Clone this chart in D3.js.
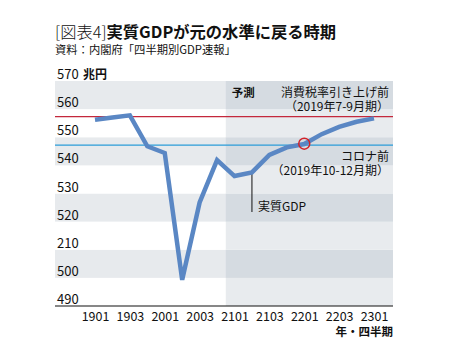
<!DOCTYPE html>
<html><head><meta charset="utf-8">
<script src="https://cdn.jsdelivr.net/npm/d3@7"></script>
<style>body{margin:0;background:#fff}svg{display:block}text{font-family:"Noto Sans CJK JP","Noto Sans",sans-serif}</style>
</head><body><svg id="c" width="449" height="358"></svg>
<script>
const quarters = ["1901","1902","1903","1904","2001","2002","2003","2004","2101","2102","2103","2104","2201","2202","2203","2204","2301"];
const gdp = [556.2,557.0,557.8,546.8,544.4,499.3,526.8,541.9,536.2,537.5,543.7,546.4,547.6,551.1,553.7,555.5,556.7];
const tickLabels = ["1901","1903","2001","2003","2101","2103","2201","2203","2301"];
const yTicks = [490,500,510,520,530,540,550,560,570];
const yTickText = ["490","500","210","520","530","540","550","560","570"];
const refPreTax = 557.3, refPreCovid = 547.2;
const forecastStart = "2101";

const svg = d3.select("#c");
const L = 55, R = 393, T = 81, B = 306;
const x = d3.scalePoint().domain(quarters).range([95, 374]);
const y = d3.scaleLinear().domain([490,570]).range([B, T]);
const step = x.step();

// bands
const bands = d3.range(0, yTicks.length-1);
svg.selectAll("rect.band").data(bands).join("rect")
  .attr("x", L).attr("width", R-L)
  .attr("y", i => y(yTicks[i+1])).attr("height", i => y(yTicks[i]) - y(yTicks[i+1]))
  .attr("fill", i => (yTicks.length-2-i) % 2 === 0 ? "#e7eaed" : "#ffffff");
// forecast overlay
const fx = x(forecastStart) - step/2;
svg.selectAll("rect.fband").data(bands).join("rect")
  .attr("x", fx).attr("width", R-fx)
  .attr("y", i => y(yTicks[i+1])).attr("height", i => y(yTicks[i]) - y(yTicks[i+1]))
  .attr("fill", i => (yTicks.length-2-i) % 2 === 0 ? "#d5dbe1" : "#e8ebee");

// y labels
svg.selectAll("text.yl").data(yTicks).join("text")
  .attr("x", L + 2).attr("y", d => y(d) - 2)
  .attr("font-size", 13).attr("fill", "#111")
  .text((d,i) => yTickText[i]);
svg.append("text").attr("x", L + 28).attr("y", y(570) - 2)
  .attr("font-size", 12).attr("font-weight", "bold").attr("fill", "#111").text("兆円");

// reference lines
svg.append("line").attr("x1", L).attr("x2", R).attr("y1", y(refPreTax)).attr("y2", y(refPreTax))
  .attr("stroke", "#c4283c").attr("stroke-width", 1.2);
svg.append("line").attr("x1", L).attr("x2", R).attr("y1", y(refPreCovid)).attr("y2", y(refPreCovid))
  .attr("stroke", "#2b9cd8").attr("stroke-width", 1.2);

// leader line
svg.append("line").attr("x1", x("2102")).attr("x2", x("2102"))
  .attr("y1", y(gdp[9])).attr("y2", 212).attr("stroke", "#111").attr("stroke-width", 1);

// GDP line
svg.append("path").datum(gdp)
  .attr("d", d3.line().x((d,i) => x(quarters[i])).y(d => y(d)))
  .attr("fill", "none").attr("stroke", "#5a87c4").attr("stroke-width", 4.5).attr("stroke-linejoin", "miter");

// circle
svg.append("circle").attr("cx", x("2201")).attr("cy", y(refPreCovid) - 1.5).attr("r", 5.5)
  .attr("fill", "none").attr("stroke", "#d2232a").attr("stroke-width", 1.5);

// axis
svg.append("line").attr("x1", L).attr("x2", R).attr("y1", B).attr("y2", B).attr("stroke", "#111").attr("stroke-width", 1.2);
const xAxis = d3.axisBottom(x).tickValues(tickLabels).tickSize(0).tickPadding(0);
const ag = svg.append("g").attr("transform", `translate(0,${B})`).call(xAxis);
ag.select(".domain").remove();
ag.selectAll("text").attr("font-size", 12.5).attr("fill", "#111").attr("dy", null).attr("y", 15)
  .style("font-family", '"Noto Sans CJK JP",sans-serif');
svg.append("text").attr("x", R).attr("y", 336).attr("text-anchor", "end")
  .attr("font-size", 11.5).attr("font-weight", "bold").attr("fill", "#111").text("年・四半期");

// annotations
svg.append("text").attr("x", fx + 6).attr("y", 97).attr("font-size", 11.5).attr("font-weight", "bold").attr("fill", "#111").text("予測");
const ann = [["消費税率引き上げ前",97],["（2019年7-9月期）",111],["コロナ前",161],["（2019年10-12月期）",175]];
svg.selectAll("text.ann").data(ann).join("text")
  .attr("x", R - 4).attr("y", d => d[1]).attr("text-anchor", "end")
  .attr("font-size", 12).attr("fill", "#111").text(d => d[0]);
svg.append("text").attr("x", x("2102") + 6).attr("y", 211).attr("font-size", 12).attr("fill", "#111").text("実質GDP");

// title
const t = svg.append("text").attr("x", L).attr("y", 38).attr("font-size", 16.3).attr("fill", "#111");
t.append("tspan").attr("font-weight", 300).text("[図表4]");
t.append("tspan").attr("font-weight", "bold").text("実質GDPが元の水準に戻る時期");
svg.append("text").attr("x", L).attr("y", 54).attr("font-size", 11.3).attr("fill", "#111").text("資料：内閣府「四半期別GDP速報」");
</script></body></html>
